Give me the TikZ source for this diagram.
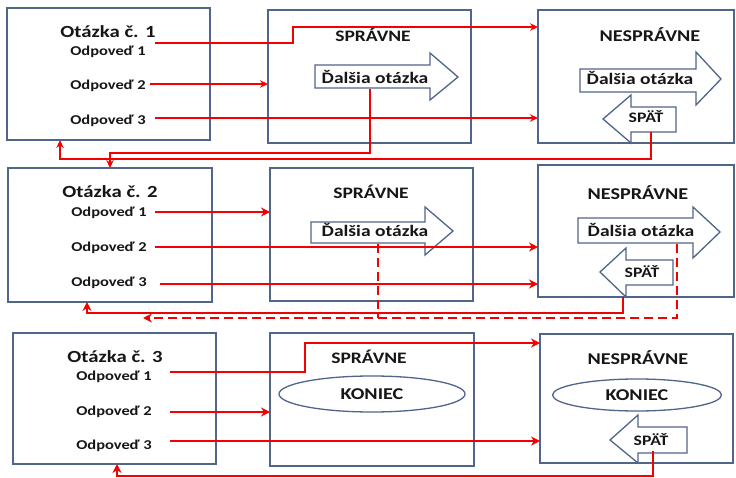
\documentclass[tikz,border=0pt]{standalone}
\usepackage{fontspec}
\newfontfamily\lb{Carlito}[FakeStretch=1.22]
\usetikzlibrary{arrows.meta,shapes.geometric,calc}
\definecolor{boxc}{RGB}{80,101,138}
\definecolor{txtc}{RGB}{22,22,22}
\definecolor{lnc}{RGB}{245,0,0}
\tikzset{
  frame/.style={draw=boxc, line width=1.3pt, inner sep=0pt, outer sep=0pt},
  blk/.style={draw=boxc, line width=1.3pt, fill=white, line join=miter},
  ell/.style={draw=boxc, line width=1.3pt, ellipse, inner sep=0pt, text=txtc,
              font={\lb\bfseries\fontsize{16.5}{19}\selectfont}},
  qtxt/.style={anchor=base, text=txtc, inner sep=0pt, font={\lb\bfseries\fontsize{17}{20}\selectfont}},
  atxt/.style={anchor=base, text=txtc, inner sep=0pt, font={\lb\bfseries\fontsize{13.5}{16}\selectfont}},
  htxt/.style={anchor=base, text=txtc, inner sep=0pt, font={\lb\bfseries\fontsize{16}{19}\selectfont}},
  nhtxt/.style={anchor=base, text=txtc, inner sep=0pt, font={\lb\bfseries\fontsize{16.5}{19}\selectfont}},
  btxt/.style={anchor=base, text=txtc, inner sep=0pt, font={\lb\bfseries\fontsize{16}{19}\selectfont}},
  ptxt/.style={anchor=base, text=txtc, inner sep=0pt, font={\lb\bfseries\fontsize{14.5}{17}\selectfont}},
  wire/.style={draw=lnc, line width=1.3pt},
  wireb/.style={draw=lnc, line width=2.3pt},
  arw/.style={-{Stealth[length=8pt,width=7.5pt]}},
  arwb/.style={-{Stealth[length=9pt,width=9pt]}},
  dashwire/.style={wireb, dash pattern=on 9pt off 5pt}
}
\begin{document}
\begin{tikzpicture}[x=1pt,y=-1pt]
\useasboundingbox (0,0) rectangle (736,478);
\clip (0,0) rectangle (736,478);
\fill[white] (0,0) rectangle (736,478);

% ---------- boxes ----------
\node[frame, minimum width=203pt, minimum height=132pt] (q1) at (108.5,74) {};
\node[frame, minimum width=203pt, minimum height=133pt] (s1) at (369.5,76.5) {};
\node[frame, minimum width=196pt, minimum height=133pt] (n1) at (636,76.5) {};
\node[frame, minimum width=204pt, minimum height=134pt] (q2) at (110,235) {};
\node[frame, minimum width=203pt, minimum height=133pt] (s2) at (371.5,234.5) {};
\node[frame, minimum width=196pt, minimum height=132pt] (n2) at (636,231) {};
\node[frame, minimum width=203pt, minimum height=131pt] (q3) at (114.5,398.5) {};
\node[frame, minimum width=204pt, minimum height=133pt] (s3) at (372,399.5) {};
\node[frame, minimum width=193pt, minimum height=129pt] (n3) at (636.5,398.5) {};

% ---------- block arrows ----------
\draw[blk] (315,65) -- (430,65) -- (430,53) -- (458,77) -- (430,100) -- (430,88) -- (315,88) -- cycle;
\draw[blk] (580,69) -- (696,69) -- (696,52) -- (721,79) -- (696,105) -- (696,92) -- (580,92) -- cycle;
\draw[blk] (311,222) -- (425,222) -- (425,207) -- (453,231) -- (425,255) -- (425,243) -- (311,243) -- cycle;
\draw[blk] (578,218) -- (693,218) -- (693,207) -- (720,232) -- (693,258) -- (693,243) -- (578,243) -- cycle;
\draw[blk] (676,107) -- (631,107) -- (631,95) -- (603,119) -- (631,143) -- (631,132) -- (676,132) -- cycle;
\draw[blk] (673,260) -- (626,260) -- (626,248) -- (600,272) -- (626,297) -- (626,285) -- (673,285) -- cycle;
\draw[blk] (687,427) -- (638,427) -- (638,415) -- (610,440) -- (638,463) -- (638,453) -- (687,453) -- cycle;

% ---------- ellipses ----------
\node[ell, minimum width=186pt, minimum height=36pt] (e1) at (372,394) {KONIEC};
\node[ell, minimum width=169pt, minimum height=32pt] (e2) at (637,395) {KONIEC};

% ---------- texts ----------
\node[qtxt] (t1) at (108,38) {Otázka č. 1};
\node[atxt] (o11) at (108,56) {Odpoveď 1};
\node[atxt] (o12) at (108,90) {Odpoveď 2};
\node[atxt] (o13) at (108,125) {Odpoveď 3};
\node[qtxt] (t2) at (110,198) {Otázka č. 2};
\node[atxt] (o21) at (109,217) {Odpoveď 1};
\node[atxt] (o22) at (109,252) {Odpoveď 2};
\node[atxt] (o23) at (109,287) {Odpoveď 3};
\node[qtxt] (t3) at (115,362) {Otázka č. 3};
\node[atxt] (o31) at (114,380) {Odpoveď 1};
\node[atxt] (o32) at (114,415) {Odpoveď 2};
\node[atxt] (o33) at (114,449) {Odpoveď 3};

\node[htxt] (h1) at (373,42) {SPRÁVNE};
\node[htxt] (h2) at (371,199) {SPRÁVNE};
\node[htxt] (h3) at (369,363) {SPRÁVNE};
\node[nhtxt] (g1) at (650,42) {NESPRÁVNE};
\node[nhtxt] (g2) at (638,200) {NESPRÁVNE};
\node[nhtxt] (g3) at (638,364) {NESPRÁVNE};

\node[btxt] (d1) at (375,84) {Ďalšia otázka};
\node[btxt] (d2) at (640,85) {Ďalšia otázka};
\node[btxt] (d3) at (375,237) {Ďalšia otázka};
\node[btxt] (d4) at (641,237) {Ďalšia otázka};
\node[ptxt] (p1) at (646,123) {SPÄŤ};
\node[ptxt] (p2) at (642,278) {SPÄŤ};
\node[ptxt] (p3) at (651,445) {SPÄŤ};

% ---------- connector start points ----------
\coordinate (a11) at (155,43);
\coordinate (a12) at (150,84);
\coordinate (a13) at (155,118);
\coordinate (a14) at (370,89);
\coordinate (a15) at (651,132);
\coordinate (a21) at (155,212);
\coordinate (a22) at (155,247);
\coordinate (a23) at (160,284);
\coordinate (a24) at (677,244);
\coordinate (a24b) at (378,244);
\coordinate (a25) at (623,297);
\coordinate (a31) at (170,372);
\coordinate (a32) at (170,412);
\coordinate (a33) at (170,441);
\coordinate (a35) at (653,451);

% ---------- row 1 connectors ----------
\draw[wire,arw] (a11) -| (293,27) -- (n1.west |- 0,27);
\draw[wire,arw] (a12) -- (s1.west |- 0,84);
\draw[wire,arw] (a13) -- (n1.west |- 0,118);
\draw[wire,arw] (a14) |- (110,153) -- (q2.north);
\draw[wire,arw] (a15) |- (60,159) -- (q1.south -| 60,0);

% ---------- row 2 connectors ----------
\draw[wireb,arwb] (a21) -- (s2.west |- 0,212);
\draw[wireb,arwb] (a22) -- (n2.west |- 0,247);
\draw[wireb,arwb] (a23) -- (n2.west |- 0,284);
\draw[dashwire] (a24b) -- (378,318);
\draw[dashwire,arwb] (a24) |- (143,318);
\draw[wireb,arwb] (a25) |- (87,313) -- (q2.south -| 87,0);

% ---------- row 3 connectors ----------
\draw[wireb,arwb] (a31) -| (305,343) -- (n3.west |- 0,343);
\draw[wireb,arwb] (a32) -- (s3.west |- 0,412);
\draw[wireb,arwb] (a33) -- (n3.west |- 0,441);
\draw[wireb,arwb] (a35) |- (117,476) -- (q3.south -| 117,0);
\end{tikzpicture}
\end{document}
